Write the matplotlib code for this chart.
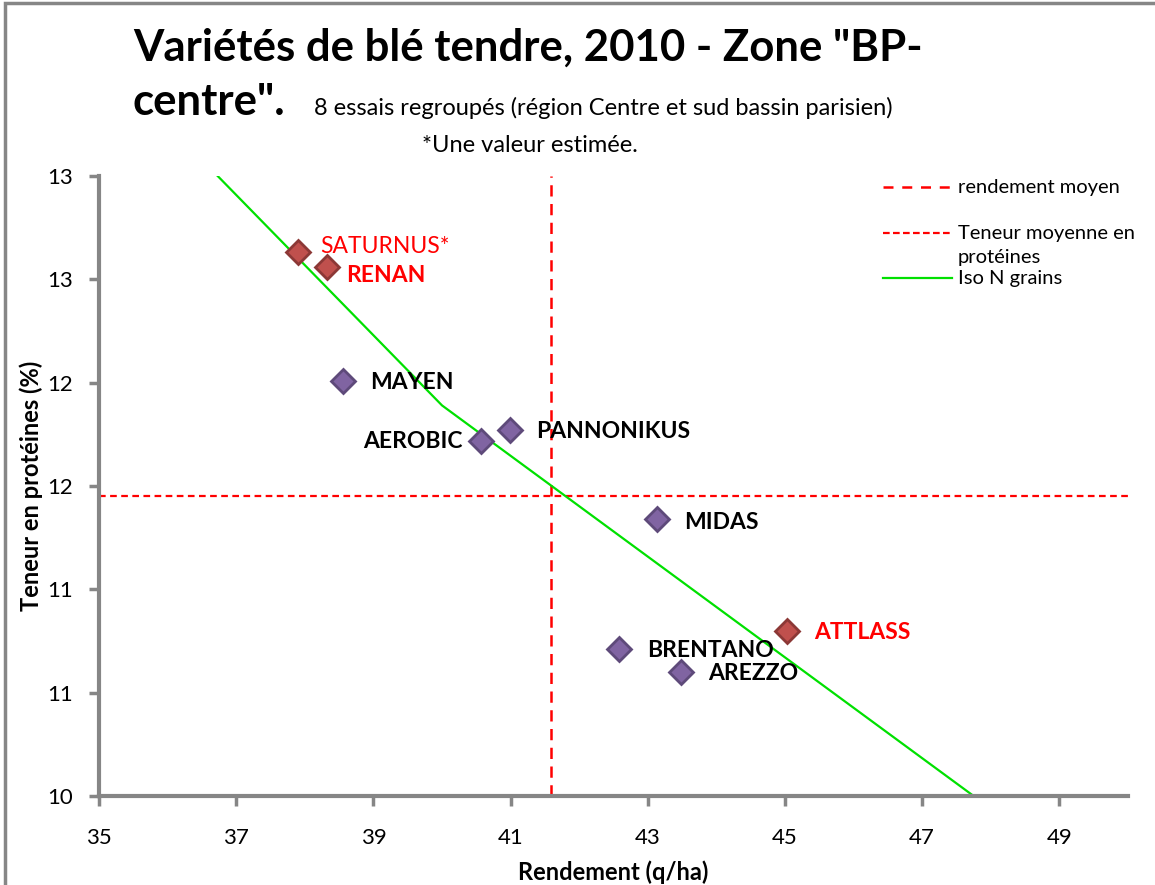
import matplotlib
matplotlib.use('Agg')
import matplotlib.pyplot as plt
from matplotlib.patches import Rectangle
from matplotlib.lines import Line2D

plt.rcParams['font.family'] = ['Lato', 'DejaVu Sans']

# Data
varietes = ['SATURNUS*', 'RENAN', 'MAYEN', 'AEROBIC', 'PANNONIKUS',
            'MIDAS', 'ATTLASS', 'BRENTANO', 'AREZZO']
rendement = [37.90, 38.32, 38.56, 40.57, 40.99, 43.13, 45.03, 42.58, 43.48]
proteines = [12.63, 12.56, 12.01, 11.72, 11.77, 11.34, 10.80, 10.71, 10.60]
groupe = ['rouge', 'rouge', 'violet', 'violet', 'violet',
          'violet', 'rouge', 'violet', 'violet']

rendement_moyen = 41.59
teneur_moyenne = 11.45

iso_x = [36.73, 40.0, 47.75]
iso_y = [13.0, 11.89, 10.0]

x_ticks = [35, 37, 39, 41, 43, 45, 47, 49]
y_ticks = [10.0, 10.5, 11.0, 11.5, 12.0, 12.5, 13.0]
y_labels = ['10', '11', '11', '12', '12', '13', '13']

# label placement (offset in pixels, alignment, colour, weight)
lbl_style = {
    'SATURNUS*': ((22, 6), 'left', 'red', 'normal'),
    'RENAN': ((19, -9), 'left', 'red', 'bold'),
    'MAYEN': ((27, -2), 'left', 'black', 'bold'),
    'AEROBIC': ((-18, -1), 'right', 'black', 'bold'),
    'PANNONIKUS': ((26, -1), 'left', 'black', 'bold'),
    'MIDAS': ((27, -3), 'left', 'black', 'bold'),
    'ATTLASS': ((27, -2), 'left', 'red', 'bold'),
    'BRENTANO': ((28, -1), 'left', 'black', 'bold'),
    'AREZZO': ((27, -2), 'left', 'black', 'bold'),
}

couleurs = {'rouge': ('#C0504D', '#8C3836'), 'violet': ('#8064A2', '#5E4A7A')}

W, H = 1155, 885
fig = plt.figure(figsize=(W / 100, H / 100), dpi=100)
ax = fig.add_axes([99/W, 1 - 796/H, (1128-99)/W, (796-176)/H])

# mean lines
ax.axvline(rendement_moyen, color='red', lw=1.8, dashes=(4.5, 3))
ax.axhline(teneur_moyenne, color='red', lw=1.6, dashes=(3, 2))
ax.plot(iso_x, iso_y, color='#00E000', lw=1.6)

for v, x, y, g in zip(varietes, rendement, proteines, groupe):
    fc, ec = couleurs[g]
    ax.plot(x, y, marker='D', ms=12, mfc=fc, mec=ec, mew=2, ls='none', zorder=5)
    (dx, dy), ha, c, w = lbl_style[v]
    ax.annotate(v, (x, y), xytext=(dx, dy), textcoords='offset pixels',
                ha=ha, va='center', color=c, fontweight=w, fontsize=16.5)

ax.set_xlim(35, 50)
ax.set_ylim(10, 13)
ax.set_xticks(x_ticks)
ax.set_yticks(y_ticks)
ax.set_yticklabels(y_labels)
ax.tick_params(axis='both', labelsize=16, color='#868686', width=2.5,
               length=7, direction='out')
ax.tick_params(axis='x', pad=16)
ax.tick_params(axis='y', pad=12)
for s in ['top', 'right']:
    ax.spines[s].set_visible(False)
for s in ['left', 'bottom']:
    ax.spines[s].set_color('#868686')
    ax.spines[s].set_linewidth(3)

ax.set_xlabel('Rendement (q/ha)', fontsize=17, fontweight='bold', labelpad=9)
ax.set_ylabel('Teneur en protéines (%)', fontsize=17, fontweight='bold', labelpad=3)

# legend drawn by hand, as in the original layout
leg_items = [
    ('rendement moyen', 187, dict(color='red', lw=1.8, dashes=(4, 3.5))),
    ('Teneur moyenne en', 233, dict(color='red', lw=1.6, dashes=(3, 1.5))),
    ('Iso N grains', 278, dict(color='#00E000', lw=1.6)),
]
for txt, yp, st in leg_items:
    fig.add_artist(Line2D([883/W, 952/W], [1 - yp/H, 1 - yp/H],
                          transform=fig.transFigure, **st))
    fig.text(958/W, 1 - yp/H, txt, fontsize=14.5, va='center')
fig.text(958/W, 1 - 257/H, 'protéines', fontsize=14.5, va='center')

# titles
fig.text(133/W, 1 - 61/H, 'Variétés de blé tendre, 2010 - Zone "BP-',
         fontsize=31.5, fontweight='bold', va='baseline')
fig.text(133/W, 1 - 115/H, 'centre".', fontsize=31.5, fontweight='bold',
         va='baseline')
fig.text(314/W, 1 - 115/H,
         '8 essais regroupés (région Centre et sud bassin parisien)',
         fontsize=17, va='baseline')
fig.text(530/W, 1 - 152/H, '*Une valeur estimée.', fontsize=17,
         va='baseline', ha='center')

# outer chart border
fig.patches.append(Rectangle((5/W, -0.1), 1.2, 1.1 - 3/H,
                             transform=fig.transFigure, fill=False,
                             edgecolor='#868686', lw=2.5))

fig.savefig('out.png', dpi=100)
